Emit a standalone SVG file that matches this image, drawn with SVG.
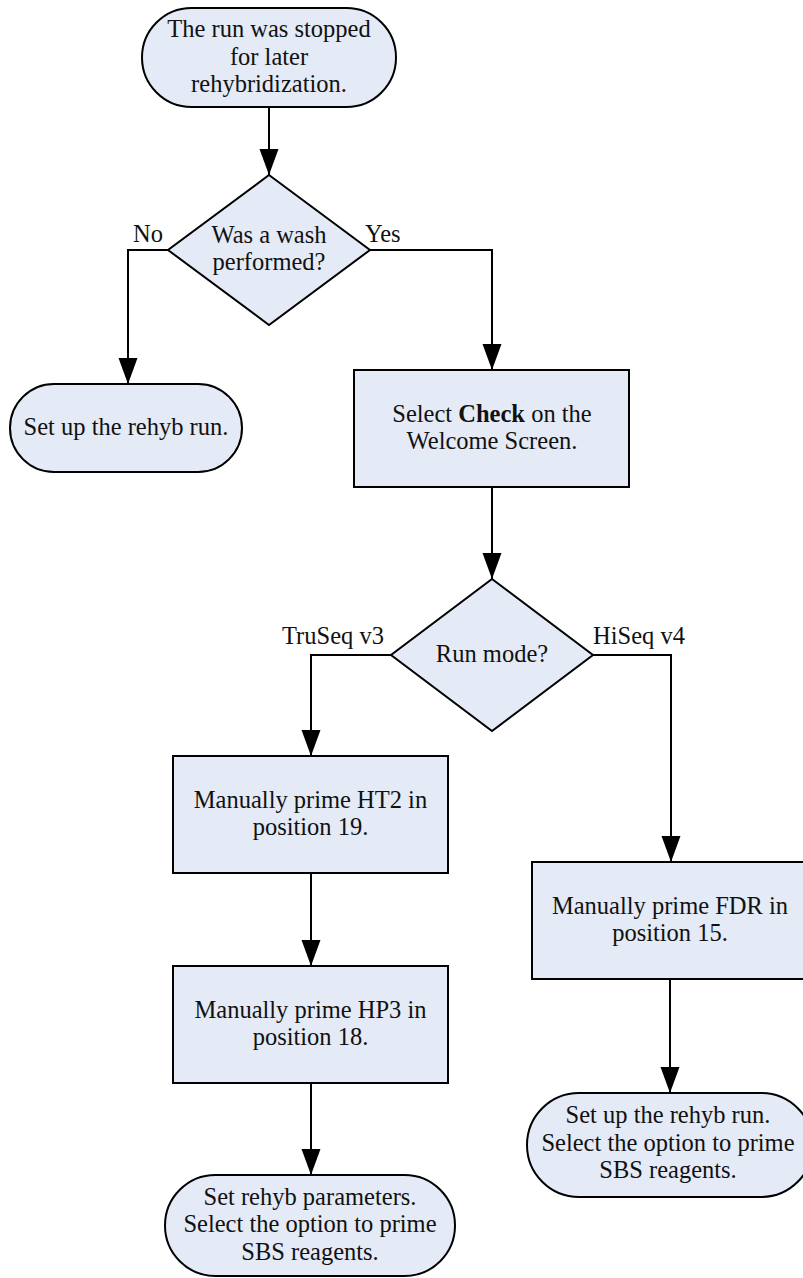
<svg xmlns="http://www.w3.org/2000/svg" width="803" height="1278" viewBox="0 0 803 1278">
<style>
.n{fill:#E4EAF6;stroke:#000;stroke-width:2}
.t{font-family:"Liberation Serif","Times New Roman",serif;font-size:24.5px;fill:#111;text-anchor:middle}
.l{font-family:"Liberation Serif","Times New Roman",serif;font-size:24.5px;fill:#111}
.c{fill:none;stroke:#000;stroke-width:2}
</style>
<defs>
<marker id="ah" markerUnits="userSpaceOnUse" markerWidth="27" markerHeight="20" refX="26" refY="9.5" orient="auto">
<path d="M0,0 L26,9.5 L0,19 z" fill="#000"/>
</marker>
</defs>
<g id="connectors">
<path class="c" d="M269,107 V175" marker-end="url(#ah)"/>
<path class="c" d="M168,250 H128 V384" marker-end="url(#ah)"/>
<path class="c" d="M370,250 H492 V370" marker-end="url(#ah)"/>
<path class="c" d="M492,487 V579" marker-end="url(#ah)"/>
<path class="c" d="M391,655 H311 V756" marker-end="url(#ah)"/>
<path class="c" d="M593,655 H671 V862" marker-end="url(#ah)"/>
<path class="c" d="M311,873 V966" marker-end="url(#ah)"/>
<path class="c" d="M311,1083 V1175" marker-end="url(#ah)"/>
<path class="c" d="M670,979 V1093" marker-end="url(#ah)"/>
<text class="l" x="133" y="242">No</text>
<text class="l" x="365" y="242">Yes</text>
<text class="l" x="282" y="644">TruSeq v3</text>
<text class="l" x="593" y="644">HiSeq v4</text>
</g>
<g id="start">
<rect class="n" x="142" y="8" width="254" height="99" rx="49.5"/>
<text class="t" x="269" y="37">The run was stopped</text>
<text class="t" x="269" y="65">for later</text>
<text class="t" x="269" y="92">rehybridization.</text>
</g>
<g id="wash">
<polygon class="n" points="269,175 370,250 269,325 168,250"/>
<text class="t" x="269" y="243">Was a wash</text>
<text class="t" x="269" y="270">performed?</text>
</g>
<g id="setup1">
<rect class="n" x="10" y="384" width="232" height="88" rx="44"/>
<text class="t" x="126" y="435">Set up the rehyb run.</text>
</g>
<g id="check">
<rect class="n" x="354" y="370" width="275" height="117"/>
<text class="t" x="492" y="422">Select <tspan font-weight="bold">Check</tspan> on the</text>
<text class="t" x="492" y="449">Welcome Screen.</text>
</g>
<g id="mode">
<polygon class="n" points="492,579 593,655 492,731 391,655"/>
<text class="t" x="492" y="662">Run mode?</text>
</g>
<g id="ht2">
<rect class="n" x="173" y="756" width="275" height="117"/>
<text class="t" x="310.5" y="808">Manually prime HT2 in</text>
<text class="t" x="310.5" y="835">position 19.</text>
</g>
<g id="hp3">
<rect class="n" x="173" y="966" width="275" height="117"/>
<text class="t" x="310.5" y="1018">Manually prime HP3 in</text>
<text class="t" x="310.5" y="1045">position 18.</text>
</g>
<g id="fdr">
<rect class="n" x="532" y="862" width="276" height="117"/>
<text class="t" x="670" y="914">Manually prime FDR in</text>
<text class="t" x="670" y="941">position 15.</text>
</g>
<g id="end1">
<rect class="n" x="165" y="1175" width="290" height="101" rx="50.5"/>
<text class="t" x="310" y="1205">Set rehyb parameters.</text>
<text class="t" x="310" y="1232">Select the option to prime</text>
<text class="t" x="310" y="1260">SBS reagents.</text>
</g>
<g id="end2">
<rect class="n" x="527" y="1093" width="286" height="104" rx="52"/>
<text class="t" x="668" y="1123">Set up the rehyb run.</text>
<text class="t" x="668" y="1151">Select the option to prime</text>
<text class="t" x="668" y="1178">SBS reagents.</text>
</g>
</svg>
